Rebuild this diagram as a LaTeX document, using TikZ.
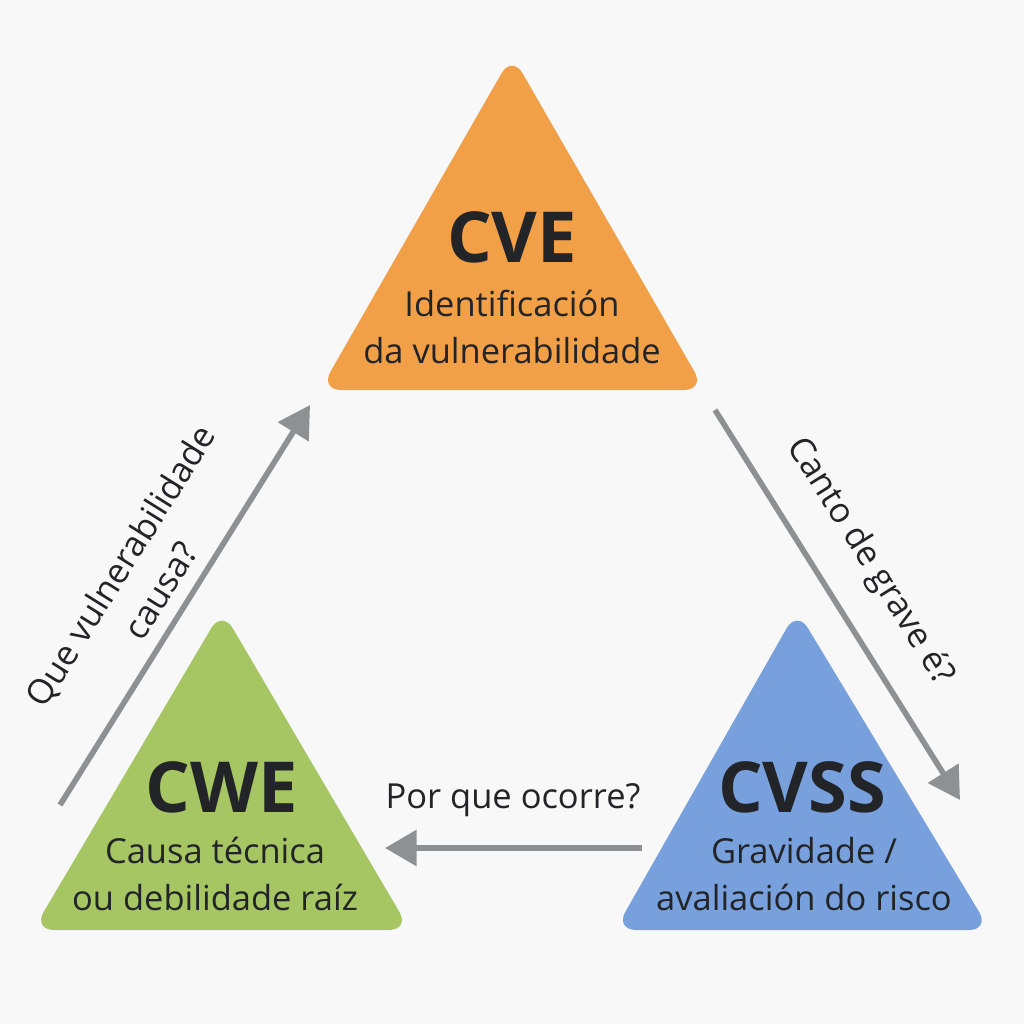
\documentclass[tikz,border=0pt]{standalone}
\usepackage{fontspec}
\setmainfont{Open Sans}
\usetikzlibrary{arrows.meta}
\definecolor{bg}{HTML}{F8F8F8}
\definecolor{org}{HTML}{F2A047}
\definecolor{grn}{HTML}{A5C663}
\definecolor{blu}{HTML}{77A0DC}
\definecolor{arr}{HTML}{8E9193}
\definecolor{txt}{HTML}{222428}
\begin{document}
\begin{tikzpicture}[x=0.01cm,y=-0.01cm,
  tri/.style={rounded corners=6pt},
  conn/.style={draw=arr,line width=1.6pt,-{Triangle[length=9pt,width=10pt]}},
  title/.style={font=\fontsize{20}{24}\selectfont\bfseries,text=txt},
  sub/.style={font=\fontsize{9.8}{13.4}\selectfont,text=txt,align=center},
  lab/.style={font=\fontsize{9.8}{13.4}\selectfont,text=txt,align=center}]
\fill[bg] (0,0) rectangle (1024,1024);
\fill[org,tri] (512,55) -- (705,390) -- (320,390) -- cycle;
\fill[grn,tri] (222,610) -- (410,930) -- (33,930) -- cycle;
\fill[blu,tri] (797,610) -- (990,930) -- (615,930) -- cycle;
\node[title] (cve) at (512,237) {CVE};
\node[sub] (cves) at (512,327) {Identificación\\da vulnerabilidade};
\node[title] (cwe) at (222,787) {CWE};
\node[sub] (cwes) at (215,874) {Causa técnica\\ou debilidade raíz};
\node[title] (cvss) at (802,787) {CVSS};
\node[sub] (cvsss) at (804,874) {Gravidade /\\avaliación do risco};
\coordinate (a1) at (60,805); \coordinate (a2) at (310,405);
\coordinate (b1) at (715,410); \coordinate (b2) at (960,800);
\coordinate (c1) at (642,848); \coordinate (c2) at (385,848);
\draw[conn] (a1) -- (a2);
\draw[conn] (b1) -- (b2);
\draw[conn] (c1) -- (c2);
\node[lab,rotate=58] (la) at (140,578) {Que vulnerabilidade\\causa?};
\node[lab,rotate=-58] (lb) at (870,562) {Canto de grave é?};
\node[lab] (lc) at (513,800) {Por que ocorre?};
\end{tikzpicture}
\end{document}
